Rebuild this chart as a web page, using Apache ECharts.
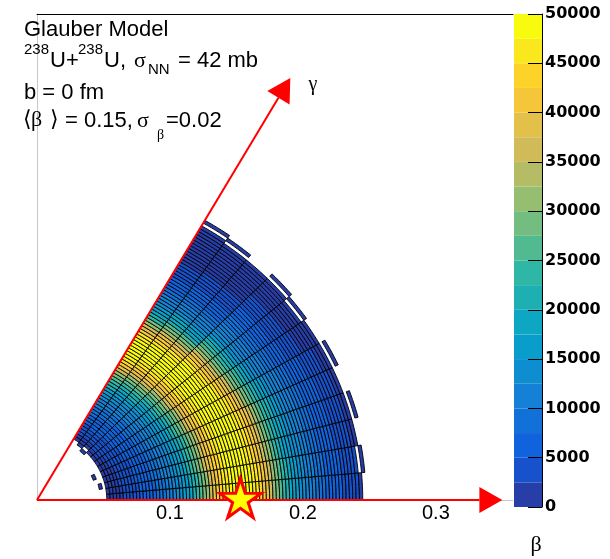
<!DOCTYPE html>
<html><head><meta charset="utf-8">
<script src="https://cdn.jsdelivr.net/npm/echarts@6/dist/echarts.min.js"></script>
<style>html,body{margin:0;padding:0;background:#fff}#c{width:610px;height:559px}</style>
</head><body><div id="c"></div><script>
// ---------------- data ----------------
// gamma bin edges (degrees); beta bins of width betaStep, first stored bin starts at betaFirstBin*betaStep
const gammaEdges = [0,5,10,15,20,25,30,35,40,45,50,55,60];
const betaStep = 0.0025;
const betaFirstBin = 18;
// counts per cell in thousands, one array per gamma sector (0 = empty bin)
const sector0 = [0,0,0,0.9,1.2,1.6,2,2.4,2.8,3.2, 3.6,4,4.5,5,5.5,6.3,6.6,7.2,7.8,8.5, 9.2,10,11,12,13,14,15.5,17,19,21, 23.5,26,29,32,35,38,41,43.5,45.5,47, 48,49,49.5,50,49.5,49,48,47,45.5,43.5, 41,38,35,32,29,26,23.5,21,19,17, 15.5,14,13,12,11,10,9.2,8.5,7.8,7.2, 6.6,6,5.5,5,4.5,4,3.6,3.2,2.8,2.4, 0,0,0];
const sector1 = [0,0,0,0.9,1.2,1.6,2,2.4,2.8,3.2, 3.6,4,4.5,5,5.5,6,6.6,7.2,7.8,8.5, 9.2,10,11,12,13,14,16,17,19,21, 23.5,26,28,32,35,38,41,43.5,45.5,47, 48,49,50,50,49.5,49,48,47,45.5,44, 41,38,35,32,29,25,23.5,21,19,17, 15.5,14,13,12,11,10,9.6,8.5,7.8,7.2, 6.6,6,5.8,5,4.5,4,3.6,3.2,2.8,0, 2,0,0];
const sector2 = [0,0.6,0,1.2,1.6,2,2.4,2.8,3.2,3.6, 4,4.5,5,5.5,6,6.6,7.2,7.8,8.5,9.2, 10,11,12,13,14,15.5,16.5,19,21,23.5, 26,28.5,32,35,38,41,43.5,44,47,48, 49,49.5,50,49.5,49,47.5,47,45.5,43.5,41, 38,35,32,31,26,23.5,21,19,17,15.5, 14,13,12.5,11,10,9.2,8.5,7.8,7.2,6.6, 6,5.5,5,4.5,4,3.6,3.2,2.8,2.4,2, 0,0,0];
const sector3 = [0,0,0,1.2,1.6,2,2.4,2.8,3.2,3.6, 4,4.5,5,5.5,6,6.6,7.2,7.8,8.5,9.2, 10,11,12,13,14,15.5,17,19,20,23.5, 26,29,32,35,38,40,43.5,45.5,47,48, 49,48.5,50,49.5,49,48,47,45.5,43.5,41, 39,35,32,29,26,23.5,21,19,18,15.5, 14,13,12,11,10,9.2,8.5,7.8,6.9,6.6, 6,5.5,5,4.5,4,3.6,3.2,2.8,2.4,2, 0,1.2,0];
const sector4 = [0.5,0,0,1.2,1.6,2,2.4,2.8,3.2,3.6, 4,4.5,5,5.5,6,6.6,7.2,7.8,8.5,9.2, 10,11,12,13,14,15.5,17,19,21,22.5, 26,29,32,34,38,41,43.5,45.5,47,48, 49,49.5,50,49.5,48.5,48,47,45.5,44.5,41, 38,35,32,29,26,23.5,21,20,17,15.5, 14,13,12,11,10,8.8,8.5,7.8,7.2,6.6, 6,5.5,5,4.5,4,3.6,3.2,2.8,2.4,2, 0,0,0];
const sector5 = [0,0,0,1.6,2,2.4,2.8,3.2,3.6,4, 4.5,5,5.5,6,6.6,7.2,7.8,8.5,9.2,10, 11,12,13,14,15.5,17,19,22,23.5,26, 29,32,35,38,41,43.5,45.5,47,48,47.5, 49.5,49,49.5,49,48,47,46,43.5,41,38, 35,32,29,27,23.5,21,19,17,15.5,14, 13,12,11,10,9.2,8.5,8.2,7.2,6.6,6, 5.5,5,4.5,4,3.6,3.2,2.8,2.4,2,1.6, 0,0.9,0];
const sector6 = [0,0,0,1.6,2,2.4,2.8,3.2,3.6,4, 4.5,5,5.5,6,6.6,7.2,7.8,8.5,9.2,10, 11,12,13,14,15.5,16.5,19,21,23.5,26, 29,32,36,38,41,43.5,45.5,46,48,49, 48.5,49,49,48.5,47.5,46,44,41.5,38.5,35, 32,29,27,23,20.5,18,16,14.5,13,12, 11,10.5,9,8.2,7.5,6.8,6.2,5.6,5,4.5, 4,3.6,3.2,2.8,2.4,2,1.7,1.4,1.1,0.8, 0,0,0];
const sector7 = [0,0,0,2,2.4,2.8,3.2,3.6,4,4.5, 5,5.5,6,6.6,7.2,7.8,8.5,9.2,10,11, 12,13,14,15.5,17,19,20,23.5,26,29, 32,35,38,41,44.5,45.5,47,48,48.5,49, 49,48.5,48,47,46,44,41.5,38.5,35,32, 29,25,23,20.5,18,16,14.5,13,12,11.5, 10,9,8.2,7.5,6.8,6.2,5.6,5,4.5,4, 3.6,3.2,2.8,2.4,2,1.7,1.4,1.1,0.8,0, 0.5,0,0];
const sector8 = [0,0,0,2,2.4,2.8,3.2,3.6,4,4.5, 5,5.5,6,6.6,7.2,7.8,8.5,9.2,10,11, 12,13,14,15.5,17,19,21,23.5,25,29, 32,35,38,41,43.5,45.5,46.5,48,49,49.5, 48.5,49.5,48.5,47.5,46,43,41.5,38.5,35,32, 29,26,23,20.5,18,15,14.5,13,12,11, 10,9,8.2,7.5,6.8,6.2,5.6,5,4.5,4, 3.6,3.2,2.8,2.4,2,1.7,1.4,1.1,0.8,0.6, 0,0.5,0];
const sector9 = [0,0,1,0,2,2.4,2.8,3.2,3.8,5, 5.5,6,6.6,7.2,7.8,8.5,9.2,10,11,12, 13,14,15.5,17,20,21,23.5,26,29,32, 35,38,40,43.5,45.5,47,48,49,48.5,49, 49,48,46.5,45.5,42,39,35.5,32,28.5,26.5, 22,19.5,17,15,13.5,12,11.5,10,9,8, 7.2,6.5,5.8,5.2,4.6,4,3.5,3,2.6,2.2, 1.9,1.6,1.3,1,0.8,0.6,0.5,0.4,0.3,0.3, 0,0,0];
const sector10 = [0,0,0,1.8,2,2.4,2.8,3.2,3.8,5, 5.5,6,6.6,7.2,7.8,8.5,9.2,10,11,12, 13,14,15.5,17,19,21,23.5,27,29,32, 35,38,41,43.5,45.5,46,48,49,49.5,50, 49,47.5,46.5,44.5,42,39,37,32,28.5,25, 22,19.5,18,15,13.5,12,11,10,9,8, 7.2,6.5,5.8,5,4.6,4,3.5,3,2.6,2.2, 1.9,1.6,1.3,1,0.8,0.6,0.5,0.4,0.3,0.3, 0,0.5,0];
const sector11 = [0,0,0,0,1.5,2,2.6,3.2,3.8,4.6, 5.4,6.2,7.2,7.8,8.5,9.2,10,11,12,13, 14,15.5,17,20,21,23.5,26,29,32,36, 38,41,43.5,45.5,47.5,48,49,49.5,50,49, 48,46.5,45,42,39,35.5,32,28.5,24,22, 19.5,17,15,13.5,12,11,10,9,8,7.2, 6.5,5.8,5.2,4.6,4,3.5,3,2.6,2.2,1.9, 1.6,1.3,1,0.8,0.6,0.5,0.4,0.3,0.3,0.3, 0.3,0,0.3];
const sectors = [sector0,sector1,sector2,sector3,sector4,sector5,sector6,sector7,sector8,sector9,sector10,sector11];
const countUnit = 1000;
// z axis (colour scale)
const zMin = 0, zMax = 50000, zContourStep = 2500, zTickStep = 5000;
// beta axis tick labels / ranges
const betaTicks = [0.1, 0.2, 0.3];
const betaTickStep = 0.1;
const betaAxisMax = 0.358, yAxisMax = 0.38;
// axis arrows (beta units) and the marker star
const betaArrowLength = 0.35;
const gammaArrowLength = 0.381;
const gammaMax = 60;
const starPoint = [0.153, 0];

// ---------------- palette (ROOT kBird) ----------------
const stops = [0,0.125,0.25,0.375,0.5,0.625,0.75,0.875,1];
const pr = [0.2082,0.0592,0.0780,0.0232,0.1802,0.5301,0.8186,0.9956,0.9764];
const pg = [0.1664,0.3599,0.5041,0.6419,0.7178,0.7492,0.7328,0.7862,0.9832];
const pb = [0.5293,0.8684,0.8385,0.7914,0.6425,0.4662,0.3499,0.1968,0.0539];
function bird(t){
  let i = 0; while (i < stops.length-2 && t > stops[i+1]) i++;
  const f = (t - stops[i])/(stops[i+1]-stops[i]);
  const c = a => Math.round(255*(a[i] + (a[i+1]-a[i])*f));
  return 'rgb(' + c(pr) + ',' + c(pg) + ',' + c(pb) + ')';
}
const nLevels = Math.round((zMax - zMin)/zContourStep);
const levelColors = [];
for (let i = 0; i < nLevels; i++) levelColors.push(bird(Math.floor((i+0.99)*255/nLevels)/254));
function colorFor(v){ return levelColors[Math.max(0, Math.min(nLevels-1, Math.floor((v - zMin)/zContourStep)))]; }

// ---------------- build cells ----------------
const cells = [];
sectors.forEach((arr, s) => arr.forEach((v, j) => {
  if (v > 0) cells.push([gammaEdges[s], gammaEdges[s+1], (betaFirstBin+j)*betaStep, (betaFirstBin+j+1)*betaStep, v*countUnit]);
}));
const d2r = Math.PI/180;
const arrows = [
  [0, 0, betaArrowLength, 0],
  [0, 0, gammaArrowLength*Math.cos(gammaMax*d2r), gammaArrowLength*Math.sin(gammaMax*d2r)]
];

function renderCell(params, api){
  const g0 = api.value(0)*d2r, g1 = api.value(1)*d2r, b0 = api.value(2), b1 = api.value(3);
  const m = 6, pts = [];
  for (let i = 0; i <= m; i++){ const g = g0 + (g1-g0)*i/m; pts.push(api.coord([b1*Math.cos(g), b1*Math.sin(g)])); }
  for (let i = m; i >= 0; i--){ const g = g0 + (g1-g0)*i/m; pts.push(api.coord([b0*Math.cos(g), b0*Math.sin(g)])); }
  return {type:'polygon', shape:{points:pts}, style:{fill:colorFor(api.value(4)), stroke:'#000', lineWidth:0.9}};
}
function renderArrow(params, api){
  const p0 = api.coord([api.value(0), api.value(1)]);
  const p1 = api.coord([api.value(2), api.value(3)]);
  const dx = p1[0]-p0[0], dy = p1[1]-p0[1], L = Math.hypot(dx, dy), ux = dx/L, uy = dy/L;
  const headLen = 23, headHalf = 13;
  const bx = p1[0]-ux*headLen, by = p1[1]-uy*headLen;
  return {type:'group', children:[
    {type:'line', shape:{x1:p0[0], y1:p0[1], x2:bx, y2:by}, style:{stroke:'#ff0000', lineWidth:2}},
    {type:'polygon', shape:{points:[p1, [bx-uy*headHalf, by+ux*headHalf], [bx+uy*headHalf, by-ux*headHalf]]}, style:{fill:'#ff0000'}}
  ]};
}

const starPath = 'path://M50,0 L61.2,34.5 L97.6,34.5 L68.2,55.9 L79.4,90.5 L50,69.1 L20.6,90.5 L31.8,55.9 L2.4,34.5 L38.8,34.5 Z';

const barSeries = levelColors.map((col, i) => ({
  type:'bar', xAxisIndex:2, yAxisIndex:1, stack:'z', barWidth:'100%', silent:true,
  data:[zContourStep], itemStyle:{color:col}, z:1
}));

function txt(text, x, y, size, family, extra){
  return Object.assign({type:'text', style:Object.assign({text:text, x:x, y:y, fontSize:size, fontFamily:family, fill:'#000',
    align:'left', verticalAlign:'middle', textAlign:'left', textVerticalAlign:'middle'}, extra||{})}, {z:100});
}
const sans = 'Liberation Sans', serif = 'Liberation Serif';

function betaLabel(v){
  for (const t of betaTicks) if (Math.abs(v - t) < 1e-9) return t.toFixed(1);
  return '';
}

const option = {
  animation:false,
  backgroundColor:'#ffffff',
  grid:[
    {left:37, top:14, width:476, height:486},
    {left:514, top:14, width:28, height:493}
  ],
  xAxis:[
    {gridIndex:0, type:'value', min:0, max:betaAxisMax, interval:betaTickStep, position:'bottom',
     axisLine:{show:true, lineStyle:{color:'#c8c8c8', width:1}}, axisTick:{show:false}, splitLine:{show:false},
     axisLabel:{fontFamily:sans, fontSize:20, color:'#000', margin:3, showMaxLabel:false, formatter:betaLabel}},
    {gridIndex:0, type:'value', min:0, max:betaAxisMax, position:'top',
     axisLine:{show:true, lineStyle:{color:'#000', width:1}}, axisTick:{show:false}, axisLabel:{show:false}, splitLine:{show:false}},
    {gridIndex:1, type:'category', data:['z'], show:false}
  ],
  yAxis:[
    {gridIndex:0, type:'value', min:0, max:yAxisMax,
     axisLine:{show:true, lineStyle:{color:'#c8c8c8', width:1}}, axisTick:{show:false}, axisLabel:{show:false}, splitLine:{show:false}},
    {gridIndex:1, type:'value', min:zMin, max:zMax, interval:zTickStep, position:'right', z:10,
     axisLine:{show:true, lineStyle:{color:'#000', width:1}},
     axisTick:{show:true, inside:true, length:14, lineStyle:{color:'#000', width:1}},
     axisLabel:{fontFamily:'DejaVu Sans', fontWeight:'bold', fontSize:16, color:'#000', margin:3, formatter:v => String(v)},
     splitLine:{show:false}}
  ],
  series:[
    {type:'custom', xAxisIndex:0, yAxisIndex:0, renderItem:renderCell, data:cells, clip:false, silent:true, z:2, progressive:0},
    {type:'custom', xAxisIndex:0, yAxisIndex:0, renderItem:renderArrow, data:arrows, clip:false, silent:true, z:3},
    {type:'scatter', xAxisIndex:0, yAxisIndex:0, data:[starPoint], symbol:starPath, symbolSize:[41,39], symbolOffset:[0,-2],
     itemStyle:{color:'#ffff00', borderColor:'#ff0000', borderWidth:3, opacity:1}, silent:true, z:4, clip:false}
  ].concat(barSeries),
  graphic:[
    txt('Glauber Model', 24, 29.5, 22, sans),
    txt('238', 24, 50, 15, sans),
    txt('U+', 50, 60.5, 22, sans),
    txt('238', 78, 50, 15, sans),
    txt('U,', 104, 60.5, 22, sans),
    txt('σ', 134, 61, 22, serif),
    txt('NN', 148, 70, 15, sans),
    txt('= 42 mb', 178, 60.5, 22, sans),
    txt('b = 0 fm', 24, 92.5, 22, sans),
    txt('⟨', 23, 120.5, 22, 'DejaVu Sans'),
    txt('β', 31, 120.5, 22, serif),
    txt('⟩', 50, 120.5, 22, 'DejaVu Sans'),
    txt('= 0.15,', 65, 120.5, 22, sans),
    txt('σ', 137, 121, 22, serif),
    txt('β', 157, 135, 14, serif),
    txt('=0.02', 166, 120.5, 22, sans),
    txt('γ', 313, 85, 20, serif, {align:'center', textAlign:'center'}),
    txt('β', 536, 545, 22, serif, {align:'center', textAlign:'center'})
  ]
};
const chart = echarts.init(document.getElementById('c'));
chart.setOption(option);
</script></body></html>
